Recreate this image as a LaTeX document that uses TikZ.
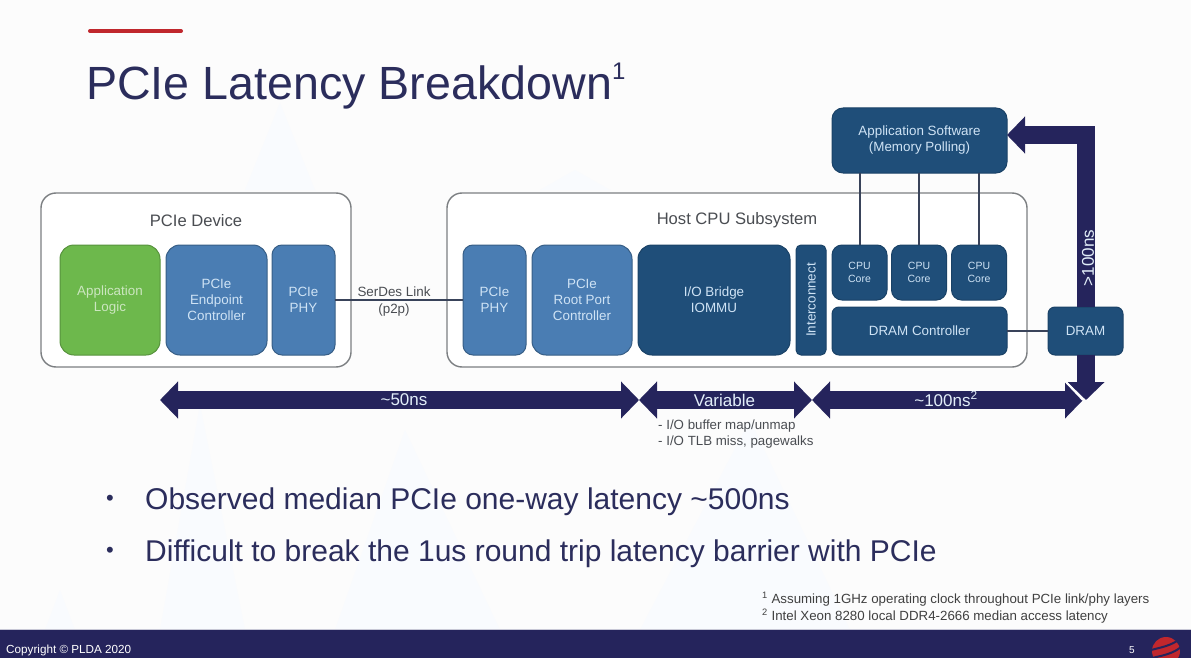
\documentclass[tikz,border=0pt]{standalone}
\usepackage{fontspec}
\setmainfont{Liberation Sans}
\usetikzlibrary{arrows.meta}
\definecolor{navyband}{HTML}{25245C}
\definecolor{titleink}{HTML}{2B2D5C}
\definecolor{darkblock}{HTML}{1F4E79}
\definecolor{midblock}{HTML}{4A7DB3}
\definecolor{greenblock}{HTML}{6DB84C}
\definecolor{blocktext}{HTML}{CFE3F5}
\definecolor{framegray}{HTML}{7C7F82}
\definecolor{wireink}{HTML}{39435A}
\definecolor{labelink}{HTML}{4A4D52}
\definecolor{watermark}{HTML}{F9FBFE}
\definecolor{accentred}{HTML}{C0272D}
\tikzset{
  slide/.style={x=1pt,y=-1pt,line join=round},
  groupbox/.style={draw=framegray,line width=1.4pt,fill=white,rounded corners=15pt,inner sep=0pt,outer sep=0pt},
  block/.style={rounded corners=10pt,inner sep=0pt,outer sep=0pt,align=center,
    text=blocktext,font=\fontsize{13.4}{16}\selectfont},
  midblock/.style={block,fill=midblock,draw=midblock!75!black,line width=1pt},
  darkblock/.style={block,fill=darkblock,draw=darkblock!85!black,line width=1pt},
  coreblock/.style={darkblock,font=\fontsize{10.5}{13}\selectfont,minimum width=55pt,minimum height=55pt},
  wire/.style={draw=wireink,line width=2pt},
  fatarrow/.style={draw=navyband,line width=18pt,line join=miter},
  fathead/.tip={Triangle[length=18pt,width=36pt]},
  arrowtext/.style={text=blocktext!60!white,font=\fontsize{17}{20}\selectfont,inner sep=0pt},
  bullettext/.style={anchor=west,text=titleink,font=\fontsize{30}{36}\selectfont,inner sep=0pt},
  smalltext/.style={anchor=west,text=labelink,font=\fontsize{13.3}{16}\selectfont,inner sep=0pt},
  grouplabel/.style={text=labelink,font=\fontsize{16.6}{20}\selectfont,inner sep=0pt}
}

\begin{document}
\begin{tikzpicture}[slide]
  \useasboundingbox (0,0) rectangle (1191,658);
  \fill[white!99!black] (0,0) rectangle (1191,658);

  % faint mountains behind the slide
  \fill[watermark] (280,103)--(315,190)--(245,190)--cycle;
  \fill[watermark] (575,170)--(610,190)--(540,190)--cycle;
  \fill[watermark] (200,405)--(245,630)--(160,630)--cycle;
  \fill[watermark] (405,430)--(500,630)--(335,630)--cycle;
  \fill[watermark] (750,420)--(850,630)--(640,630)--cycle;
  \fill[watermark] (60,590)--(75,630)--(45,630)--cycle;

  % heading
  \draw[accentred,line width=4pt,line cap=round] (90,31) -- (181,31);
  \node[anchor=base west,text=titleink,font=\fontsize{46.6}{54}\selectfont,inner sep=0pt] (title) at (86,100)
    {PCIe Latency Breakdown\raisebox{20pt}{\fontsize{24}{28}\selectfont 1}};

  % outer groups
  \node[groupbox,minimum width=310pt,minimum height=174pt] (device) at (196,280) {};
  \node[groupbox,minimum width=580pt,minimum height=174pt] (host) at (737,280) {};
  \node[grouplabel] (devicelabel) at (196,220.5) {PCIe Device};
  \node[grouplabel] (hostlabel) at (737,220.5) {Host CPU Subsystem};

  % device side
  \node[block,fill=greenblock,draw=greenblock!80!black,line width=1pt,rounded corners=14pt,text=greenblock!35!white,
    minimum width=100pt,minimum height=110pt] (applogic) at (110,300) {Application\\Logic};
  \node[midblock,rounded corners=14pt,minimum width=101pt,minimum height=110pt] (endpoint) at (216.5,300) {PCIe\\Endpoint\\Controller};
  \node[midblock,minimum width=63pt,minimum height=110pt] (devphy) at (303.5,300) {PCIe\\PHY};

  % host side
  \node[midblock,minimum width=63pt,minimum height=110pt] (hostphy) at (494.5,300) {PCIe\\PHY};
  \node[midblock,rounded corners=14pt,minimum width=100pt,minimum height=110pt] (rootport) at (582,300) {PCIe\\Root Port\\Controller};
  \node[darkblock,rounded corners=14pt,minimum width=152pt,minimum height=110pt] (iobridge) at (714,300) {I/O Bridge\\IOMMU};
  \node[darkblock,rotate=90,rounded corners=5pt,minimum width=110pt,minimum height=30pt] (interconnect) at (811,300) {Interconnect};
  \node[coreblock] (coreA) at (859.5,272.5) {CPU\\Core};
  \node[coreblock] (coreB) at (919,272.5) {CPU\\Core};
  \node[coreblock] (coreC) at (979,272.5) {CPU\\Core};
  \node[darkblock,rounded corners=7pt,minimum width=175pt,minimum height=48pt] (dramctrl) at (919.5,331) {DRAM Controller};
  \node[darkblock,rounded corners=7pt,minimum width=75pt,minimum height=48pt] (dram) at (1085.5,331) {DRAM};
  \node[darkblock,rounded corners=11pt,minimum width=175pt,minimum height=65pt] (appsw) at (919.5,140.5) {Application Software\\(Memory Polling)};

  % wires
  \foreach \core in {A,B,C}
    \draw[wire] (core\core.north) -- (core\core.north |- appsw.south);
  \draw[wire] (dramctrl) -- (dram);
  \draw[wire] (devphy) -- (hostphy);
  \node[text=labelink,font=\fontsize{13.4}{17}\selectfont,align=center,inner sep=0pt] (serdes) at (394,302) {SerDes Link\\(p2p)};

  % latency arrows
  \coordinate (leftend) at (160,400);
  \coordinate (splitA) at (639,400);
  \coordinate (splitB) at (812,400);
  \coordinate (rightend) at (1083,400);
  \coordinate (corner) at (1086,135);
  \coordinate (downtip) at (1086,400);
  \draw[fatarrow,-{fathead}] (dram.south -| corner) -- (downtip);
  \draw[fatarrow,-{fathead}] (dram.north -| corner) -- (corner) -- (appsw.east |- corner);
  \draw[fatarrow,{fathead}-{fathead}] (leftend) -- (splitA);
  \draw[fatarrow,{fathead}-{fathead}] (splitA) -- (splitB);
  \draw[fatarrow,{fathead}-{fathead}] (splitB) -- (rightend);
  \coordinate (barbtop) at (1065,381);
  \draw[white,line width=2pt] (barbtop) -- (rightend);
  \node[arrowtext] (t50) at (404,400) {\textasciitilde50ns};
  \node[arrowtext] (tvar) at (724.5,400) {Variable};
  \node[arrowtext] (t100) at (946,399) {\textasciitilde100ns\textsuperscript{2}};
  \node[arrowtext,rotate=90] (tdram) at (1088,258) {>100ns};

  \node[smalltext] (mapnote) at (658,426) {- I/O buffer map/unmap};
  \node[smalltext] (tlbnote) at (658,442) {- I/O TLB miss, pagewalks};

  % bullets
  \node[text=titleink,font=\fontsize{22}{26}\selectfont,inner sep=0pt] (dotA) at (110,500) {•};
  \node[bullettext] (lineA) at (145,501.5) {Observed median PCIe one-way latency \textasciitilde500ns};
  \node[text=titleink,font=\fontsize{22}{26}\selectfont,inner sep=0pt] (dotB) at (110,552) {•};
  \node[bullettext] (lineB) at (145,553.5) {Difficult to break the 1us round trip latency barrier with PCIe};

  % footnotes
  \node[smalltext,text=black!75] (noteA) at (762,599) {\textsuperscript{1} Assuming 1GHz operating clock throughout PCIe link/phy layers};
  \node[smalltext,text=black!75] (noteB) at (762,616) {\textsuperscript{2} Intel Xeon 8280 local DDR4-2666 median access latency};

  % footer band
  \fill[navyband] (0,630) rectangle (1191,658);
  \draw[navyband!25!white,line width=1pt] (0,629.5) -- (1191,629.5);
  \node[anchor=west,text=white,font=\fontsize{11.7}{14}\selectfont,inner sep=0pt] (copyright) at (6,650) {Copyright © PLDA 2020};
  \node[text=white,font=\fontsize{10}{12}\selectfont,inner sep=0pt] (pageno) at (1132,650) {5};

  % round logo with two dark swooshes
  \fill[accentred] (1166,651) circle (14);
  \draw[navyband,line width=2pt] (1151,650) .. controls (1158,648) and (1172,646) .. (1181,638);
  \draw[navyband,line width=2pt] (1152,658) .. controls (1160,656) and (1174,654) .. (1182,646);
\end{tikzpicture}
\end{document}
